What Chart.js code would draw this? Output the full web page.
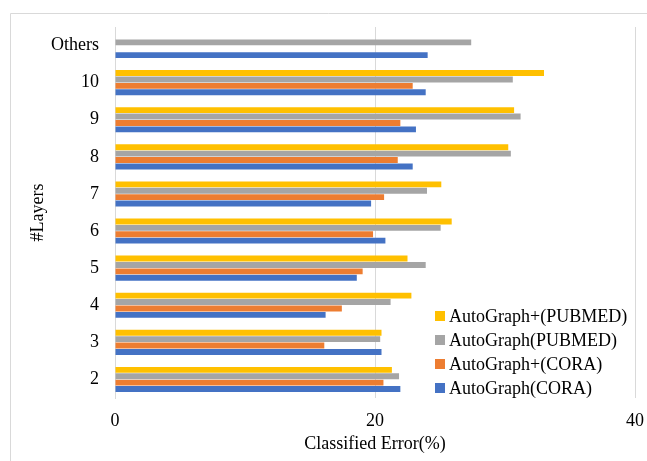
<!DOCTYPE html>
<html>
<head>
<meta charset="utf-8">
<script src="https://cdn.jsdelivr.net/npm/chart.js@4"></script>
<style>
  html, body { margin: 0; padding: 0; background: #fff; }
  #wrap { width: 647px; height: 461px; position: relative; }
</style>
</head>
<body>
<div id="wrap"><canvas id="chart" width="647" height="461"></canvas></div>
<script>
// layers, top to bottom as drawn
var layers = ['Others', '10', '9', '8', '7', '6', '5', '4', '3', '2'];
var seriesNames = ['AutoGraph+(PUBMED)', 'AutoGraph(PUBMED)', 'AutoGraph+(CORA)', 'AutoGraph(CORA)'];
var plusPubmed = [null, 33.0, 30.7, 30.25, 25.1, 25.9, 22.5, 22.8, 20.5, 21.3];
var pubmed     = [27.4, 30.6, 31.2, 30.45, 24.0, 25.05, 23.9, 21.2, 20.4, 21.85];
var plusCora   = [null, 22.9, 21.95, 21.75, 20.7, 19.85, 19.05, 17.45, 16.1, 20.65];
var cora       = [24.05, 23.9, 23.15, 22.9, 19.7, 20.8, 18.6, 16.2, 20.5, 21.95];
var xTicks = [0, 20, 40];

var colors = ['#FFC000', '#A5A5A5', '#ED7D31', '#4472C4'];
var serif = "'Liberation Serif', 'Times New Roman', serif";

var frame = {
  id: 'frame',
  beforeDraw: function(chart) {
    var ctx = chart.ctx;
    ctx.save();
    ctx.strokeStyle = '#d9d9d9';
    ctx.lineWidth = 1;
    ctx.beginPath();
    ctx.moveTo(10.5, 461);
    ctx.lineTo(10.5, 13.5);
    ctx.lineTo(647, 13.5);
    ctx.stroke();
    ctx.restore();
  }
};

// legend sits inside the plot, lower right
var innerLegend = {
  id: 'innerLegend',
  afterDraw: function(chart) {
    var ctx = chart.ctx;
    ctx.save();
    ctx.font = '18px ' + serif;
    ctx.textBaseline = 'middle';
    chart.data.datasets.forEach(function(ds, i) {
      var y = 316 + i * 24;
      ctx.fillStyle = ds.backgroundColor;
      ctx.fillRect(435, y - 5, 10, 10);
      ctx.fillStyle = '#000';
      ctx.fillText(ds.label, 449, y + 1);
    });
    ctx.restore();
  }
};

var values = [plusPubmed, pubmed, plusCora, cora];
var datasets = [];
for (var i = 0; i < seriesNames.length; i++) {
  datasets.push({
    label: seriesNames[i],
    data: values[i],
    backgroundColor: colors[i],
    borderWidth: 0,
    categoryPercentage: 0.69,
    barPercentage: 0.92
  });
}

new Chart(document.getElementById('chart'), {
  type: 'bar',
  data: { labels: layers, datasets: datasets },
  options: {
    indexAxis: 'y',
    responsive: false,
    animation: false,
    layout: { padding: { left: 0, right: 12, top: 27, bottom: 0 } },
    plugins: {
      legend: { display: false },
      tooltip: { enabled: false }
    },
    scales: {
      x: {
        min: 0,
        max: 40,
        afterBuildTicks: function(scale) {
          scale.ticks = xTicks.map(function(v) { return { value: v }; });
        },
        afterFit: function(scale) {
          scale.height = 63;
          scale.paddingLeft = 0;
          scale.paddingRight = 0;
        },
        grid: { color: '#d9d9d9', drawTicks: false },
        border: { display: false },
        ticks: { color: '#000', padding: 12, font: { family: serif, size: 18 } },
        title: {
          display: true,
          text: 'Classified Error(%)',
          color: '#000',
          font: { family: serif, size: 18 },
          padding: { top: 0, bottom: 6 }
        }
      },
      y: {
        afterFit: function(scale) {
          scale.width = 115;
          scale.paddingTop = 0;
          scale.paddingBottom = 0;
        },
        grid: { display: false, drawTicks: false },
        border: { display: true, color: '#d9d9d9' },
        ticks: { color: '#000', padding: 16, font: { family: serif, size: 18 } },
        title: {
          display: true,
          text: '#Layers',
          color: '#000',
          font: { family: serif, size: 18 },
          padding: { top: 27, bottom: 0 }
        }
      }
    }
  },
  plugins: [frame, innerLegend]
});
</script>
</body>
</html>
